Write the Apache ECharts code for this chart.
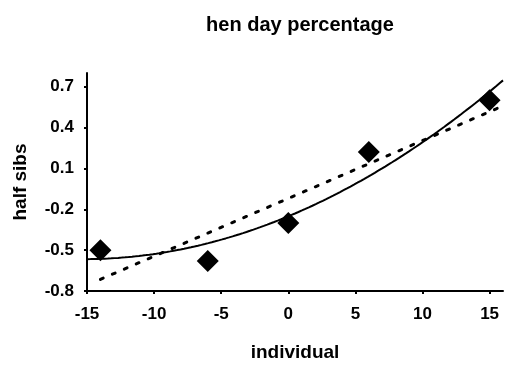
<!DOCTYPE html>
<html>
<head>
<meta charset="utf-8">
<script src="https://cdn.jsdelivr.net/npm/echarts@6/dist/echarts.min.js"></script>
<style>
  html, body { margin: 0; padding: 0; background: #fff; }
  #chart { width: 507px; height: 367px; }
</style>
</head>
<body>
<div id="chart"></div>
<script>
// Observations: individual vs half-sib values
const individual = [-14, -6, 0, 6, 15];
const halfSibs = [-0.50, -0.58, -0.30, 0.22, 0.60];

// Tick labels
const xTicks = [-15, -10, -5, 0, 5, 10, 15];
const yTicks = [-0.8, -0.5, -0.2, 0.1, 0.4, 0.7];

// Least-squares polynomial fit of given degree (normal equations)
function polyFit(xs, ys, degree) {
  const n = degree + 1;
  const A = Array.from({ length: n }, () => new Array(n + 1).fill(0));
  for (let r = 0; r < n; r++) {
    for (let c = 0; c < n; c++) {
      A[r][c] = xs.reduce((s, x) => s + Math.pow(x, r + c), 0);
    }
    A[r][n] = xs.reduce((s, x, i) => s + ys[i] * Math.pow(x, r), 0);
  }
  for (let i = 0; i < n; i++) {
    let p = i;
    for (let k = i + 1; k < n; k++) if (Math.abs(A[k][i]) > Math.abs(A[p][i])) p = k;
    [A[i], A[p]] = [A[p], A[i]];
    for (let k = i + 1; k < n; k++) {
      const f = A[k][i] / A[i][i];
      for (let j = i; j <= n; j++) A[k][j] -= f * A[i][j];
    }
  }
  const coef = new Array(n).fill(0);
  for (let i = n - 1; i >= 0; i--) {
    let s = A[i][n];
    for (let j = i + 1; j < n; j++) s -= A[i][j] * coef[j];
    coef[i] = s / A[i][i];
  }
  return coef;
}
function evalPoly(coef, x) {
  return coef.reduce((s, c, i) => s + c * Math.pow(x, i), 0);
}
function trend(coef, from, to, steps) {
  const pts = [];
  for (let i = 0; i <= steps; i++) {
    const x = from + (to - from) * i / steps;
    pts.push([x, evalPoly(coef, x)]);
  }
  return pts;
}

const linCoef = polyFit(individual, halfSibs, 1);
const quadCoef = polyFit(individual, halfSibs, 2);

const font = 'Liberation Sans, Arial, sans-serif';
const chart = echarts.init(document.getElementById('chart'));
chart.setOption({
  backgroundColor: '#ffffff',
  animation: false,
  title: {
    text: 'hen day percentage',
    left: 295,
    top: 10,
    textAlign: 'center',
    textStyle: { fontFamily: font, fontWeight: 'bold', fontSize: 20, color: '#000' }
  },
  grid: { left: 87, right: 4, top: 73, bottom: 76 },
  xAxis: {
    type: 'value',
    min: -15,
    max: 16,
    interval: 5,
    name: 'individual',
    nameLocation: 'middle',
    nameGap: 52,
    nameTextStyle: { fontFamily: font, fontWeight: 'bold', fontSize: 19, color: '#000' },
    axisLine: { onZero: false, lineStyle: { color: '#000', width: 2 } },
    axisTick: { show: true, length: 3, customValues: xTicks, lineStyle: { color: '#000', width: 2 } },
    axisLabel: { customValues: xTicks, margin: 15, fontFamily: font, fontWeight: 'bold', fontSize: 17, color: '#000' },
    splitLine: { show: false }
  },
  yAxis: {
    type: 'value',
    min: -0.8,
    max: 0.8,
    name: 'half sibs',
    nameLocation: 'middle',
    nameGap: 57,
    nameTextStyle: { fontFamily: font, fontWeight: 'bold', fontSize: 19, color: '#000' },
    axisLine: { onZero: false, lineStyle: { color: '#000', width: 2 } },
    axisTick: { show: true, length: 3, customValues: yTicks, lineStyle: { color: '#000', width: 2 } },
    axisLabel: {
      customValues: yTicks, margin: 13, fontFamily: font, fontWeight: 'bold', fontSize: 17, color: '#000',
      formatter: v => v.toFixed(1)
    },
    splitLine: { show: false }
  },
  series: [
    {
      name: 'linear trend',
      type: 'line',
      data: trend(linCoef, -14, 16, 60),
      showSymbol: false,
      lineStyle: { color: '#000', width: 3, type: [3, 10], cap: 'round' },
      z: 2
    },
    {
      name: 'quadratic trend',
      type: 'line',
      data: trend(quadCoef, -15, 16, 120),
      showSymbol: false,
      smooth: false,
      lineStyle: { color: '#000', width: 2 },
      z: 3
    },
    {
      name: 'observations',
      type: 'scatter',
      data: individual.map((x, i) => [x, halfSibs[i]]),
      symbol: 'diamond',
      symbolSize: 22,
      itemStyle: { color: '#000', opacity: 1 },
      z: 4
    }
  ]
});
</script>
</body>
</html>
